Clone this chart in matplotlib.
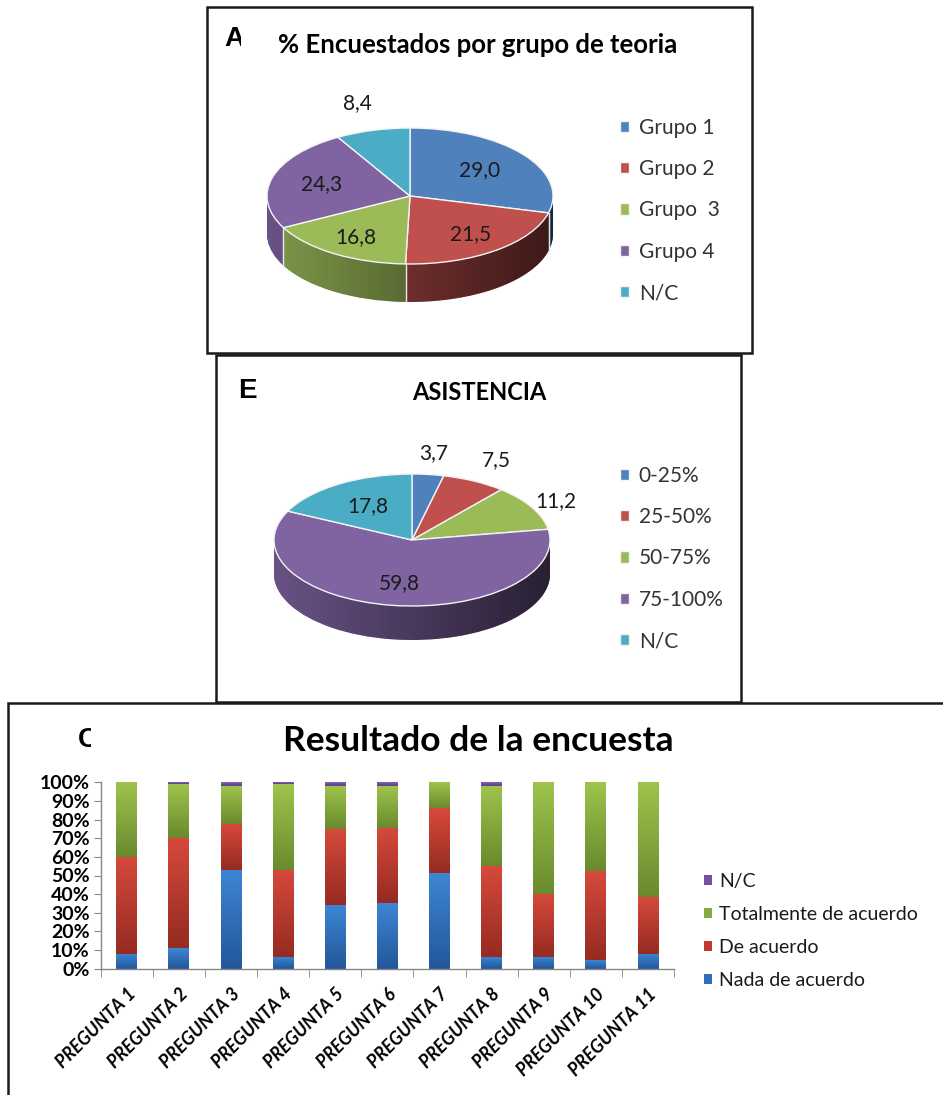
import numpy as np
import matplotlib
matplotlib.use("Agg")
import matplotlib.pyplot as plt
from matplotlib.patches import Rectangle, Polygon
from matplotlib.colors import LinearSegmentedColormap, to_rgb
from matplotlib.transforms import Bbox, TransformedBbox, ScaledTranslation

W, H = 943, 1095
plt.rcParams['font.family'] = ['Lato', 'DejaVu Sans']

# ---------------- data ----------------
grupos_labels = ['Grupo 1', 'Grupo 2', 'Grupo  3', 'Grupo 4', 'N/C']
grupos_values = [29.0, 21.5, 16.8, 24.3, 8.4]

asistencia_labels = ['0-25%', '25-50%', '50-75%', '75-100%', 'N/C']
asistencia_values = [3.7, 7.5, 11.2, 59.8, 17.8]

preguntas = ['PREGUNTA 1', 'PREGUNTA 2', 'PREGUNTA 3', 'PREGUNTA 4', 'PREGUNTA 5',
             'PREGUNTA 6', 'PREGUNTA 7', 'PREGUNTA 8', 'PREGUNTA 9', 'PREGUNTA 10',
             'PREGUNTA 11']
nada_de_acuerdo = [8.1, 11.1, 53.2, 6.5, 34.2, 35.1, 51.4, 6.5, 6.5, 4.7, 8.1]
de_acuerdo = [51.6, 59.2, 24.2, 46.7, 40.7, 40.5, 34.8, 48.5, 33.6, 47.6, 30.1]
totalmente = [40.3, 28.8, 20.6, 45.9, 23.1, 22.4, 13.8, 43.0, 59.9, 47.7, 61.8]
nc_encuesta = [0.0, 0.9, 2.0, 0.9, 2.0, 2.0, 0.0, 2.0, 0.0, 0.0, 0.0]
serie_labels = ['Nada de acuerdo', 'De acuerdo', 'Totalmente de acuerdo', 'N/C']
yticks = [0, 10, 20, 30, 40, 50, 60, 70, 80, 90, 100]

# ---------------- style ----------------
PIE_COLORS = ['#4F81BD', '#C0504D', '#9BBB59', '#8064A2', '#4BACC6']
BAR_TOP = ['#3D86D4', '#D6493B', '#9EC44C', '#8462B2']
BAR_BOT = ['#23579A', '#962B22', '#6A8A2E', '#5C3D8A']
BAR_MID = ['#2F6FB8', '#C03A30', '#87AA3F', '#7050A0']

fig = plt.figure(figsize=(W / 100, H / 100), dpi=100)


def fx(x):
    return x / W


def fy(y):
    return 1 - y / H


def box(l, t, r, b):
    fig.add_artist(Rectangle((fx(l), fy(b)), (r - l) / W, (b - t) / H,
                             transform=fig.transFigure, fill=False,
                             ec='#1a1a1a', lw=1.8, zorder=10))


def clipped_letter(x, y, s, clip_right):
    t = fig.text(fx(x), fy(y), s, fontsize=20, fontweight='bold',
                 family=['Liberation Sans', 'DejaVu Sans'],
                 ha='left', va='center', color='black')
    if clip_right is not None:
        bb = TransformedBbox(Bbox([[0, 0], [fx(clip_right), 1]]), fig.transFigure)
        t.set_clip_box(bb)
        t.set_clip_on(True)


def pie_axes(l, t, r, b, cx, cy, rx, ry):
    ax = fig.add_axes([fx(l), fy(b), (r - l) / W, (b - t) / H])
    lims = ((l - cx) / rx, (r - cx) / rx, (cy - b) / ry, (cy - t) / ry)
    return ax, lims


def pie3d(ax, lims, values, depth, label_r, nlayers=45):
    side = [tuple(0.82 * c for c in to_rgb(col)) for col in PIE_COLORS]
    for k in range(nlayers):
        off = -depth + depth * k / nlayers
        ax.pie(values, colors=side, center=(0, off), startangle=90,
               counterclock=False, wedgeprops=dict(linewidth=0))
    tt = np.linspace(0, np.pi, 120)
    tb = np.linspace(np.pi, 2 * np.pi, 120)
    verts = np.vstack([np.c_[np.cos(tt), np.sin(tt)],
                       np.c_[np.cos(tb), np.sin(tb) - depth]])
    poly = Polygon(verts, closed=True, fc='none', ec='none')
    ax.add_patch(poly)
    cmap = LinearSegmentedColormap.from_list('sh', [(0, 0, 0, 0.0), (0, 0, 0, 0.62)])
    im = ax.imshow(np.linspace(0, 1, 256)[None, :], extent=(-1, 1, -1 - depth, 1),
                   cmap=cmap, aspect='auto', zorder=2, interpolation='bilinear')
    im.set_clip_path(poly)
    wedges, _ = ax.pie(values, colors=PIE_COLORS, startangle=90, counterclock=False,
                       wedgeprops=dict(linewidth=1.0, edgecolor='#f4f4f4'))
    for w in wedges:
        w.set_zorder(3)
        for th in (w.theta1, w.theta2):
            a = np.deg2rad(th)
            if np.sin(a) < -0.02:
                ax.plot([np.cos(a)] * 2, [np.sin(a), np.sin(a) - depth],
                        color='#e8e8e8', lw=0.9, zorder=2.5)
    for w, v, r in zip(wedges, values, label_r):
        m = np.deg2rad((w.theta1 + w.theta2) / 2)
        ax.text(r * np.cos(m), r * np.sin(m), f'{v:.1f}'.replace('.', ','),
                ha='center', va='center', fontsize=15, color='#1a1a1a', zorder=5)
    ax.set_aspect('auto')
    ax.set_xlim(lims[0], lims[1])
    ax.set_ylim(lims[2], lims[3])
    ax.axis('off')
    return wedges


# ---------------- boxes ----------------
box(207, 7, 752, 353)
box(216, 355, 741, 702)
box(8, 703, 960, 1110)

# ---------------- panel A ----------------
axA, limA = pie_axes(212, 60, 610, 348, 410, 196, 143, 68)
wA = pie3d(axA, limA, grupos_values, 38 / 68, [0.62, 0.7, 0.72, 0.64, 1.42])
fig.text(fx(478), fy(45), '% Encuestados por grupo de teoria', fontsize=18.5,
         fontweight='bold', ha='center', va='center', color='black')
clipped_letter(224, 39, 'A', 241)
fig.legend(wA, grupos_labels, loc='upper left', bbox_to_anchor=(fx(620), fy(118)),
           frameon=False, fontsize=15, handlelength=0.45, handleheight=0.45,
           handletextpad=0.45, labelspacing=1.02, labelcolor='#333333',
           borderaxespad=0, borderpad=0)

# ---------------- panel B ----------------
axB, limB = pie_axes(220, 420, 610, 698, 412, 540, 138, 66)
wB = pie3d(axB, limB, asistencia_values, 34 / 66, [1.33, 1.36, 1.2, 0.66, 0.6])
fig.text(fx(479), fy(393), 'ASISTENCIA', fontsize=17, fontweight='bold',
         ha='center', va='center', color='black')
clipped_letter(238, 391, 'E', None)
fig.legend(wB, asistencia_labels, loc='upper left', bbox_to_anchor=(fx(620), fy(466)),
           frameon=False, fontsize=15, handlelength=0.45, handleheight=0.45,
           handletextpad=0.45, labelspacing=1.02, labelcolor='#333333',
           borderaxespad=0, borderpad=0)

# ---------------- panel C ----------------
axC = fig.add_axes([fx(100.7), fy(968.7), (674 - 100.7) / W, (968.7 - 782.3) / H])
x = np.arange(len(preguntas))
series = [nada_de_acuerdo, de_acuerdo, totalmente, nc_encuesta]
bottom = np.zeros(len(preguntas))
containers = []
for vals, col in zip(series, BAR_MID):
    c = axC.bar(x, vals, width=0.4, bottom=bottom, color=col, linewidth=0, zorder=1)
    containers.append(c)
    bottom = bottom + np.array(vals)
for c, top, bot in zip(containers, BAR_TOP, BAR_BOT):
    grad = np.linspace(0, 1, 64)[:, None, None]
    img = (1 - grad) * np.array(to_rgb(top)) + grad * np.array(to_rgb(bot))
    for p in c.patches:
        if p.get_height() > 0:
            axC.imshow(img, extent=(p.get_x(), p.get_x() + p.get_width(),
                                    p.get_y(), p.get_y() + p.get_height()),
                       aspect='auto', zorder=2, interpolation='bilinear')
axC.set_xlim(-0.5, len(preguntas) - 0.5)
axC.set_ylim(0, 100)
axC.set_yticks(yticks)
axC.set_yticklabels([f'{v}%' for v in yticks], fontsize=14, fontweight='bold')
axC.set_xticks(x)
axC.set_xticklabels(preguntas, rotation=45, ha='right', va='top',
                    rotation_mode='anchor', fontsize=13, fontweight='bold',
                    fontstyle='italic')
shift = ScaledTranslation(-6 / 72, 0, fig.dpi_scale_trans)
for lab in axC.get_xticklabels():
    lab.set_transform(lab.get_transform() + shift)
axC.set_xticks(np.arange(-0.5, len(preguntas), 1), minor=True)
axC.tick_params(axis='x', which='major', length=0, pad=12)
axC.tick_params(axis='x', which='minor', length=6, color='#868686', direction='out')
axC.tick_params(axis='y', length=5, color='#868686', direction='out', pad=3)
for s in ('top', 'right'):
    axC.spines[s].set_visible(False)
for s in ('left', 'bottom'):
    axC.spines[s].set_color('#868686')
    axC.spines[s].set_linewidth(1.0)
fig.text(fx(478), fy(741), 'Resultado de la encuesta', fontsize=25.5,
         fontweight='bold', ha='center', va='center', color='black')
clipped_letter(78, 740, 'C', 91)
fig.legend([containers[3], containers[2], containers[1], containers[0]],
           [serie_labels[3], serie_labels[2], serie_labels[1], serie_labels[0]],
           loc='upper left', bbox_to_anchor=(fx(704), fy(873)), frameon=False,
           fontsize=14, handlelength=0.42, handleheight=0.42, handletextpad=0.35,
           labelspacing=0.82, labelcolor='#1a1a1a', borderaxespad=0, borderpad=0)

fig.savefig('out.png', dpi=100, facecolor='white')
